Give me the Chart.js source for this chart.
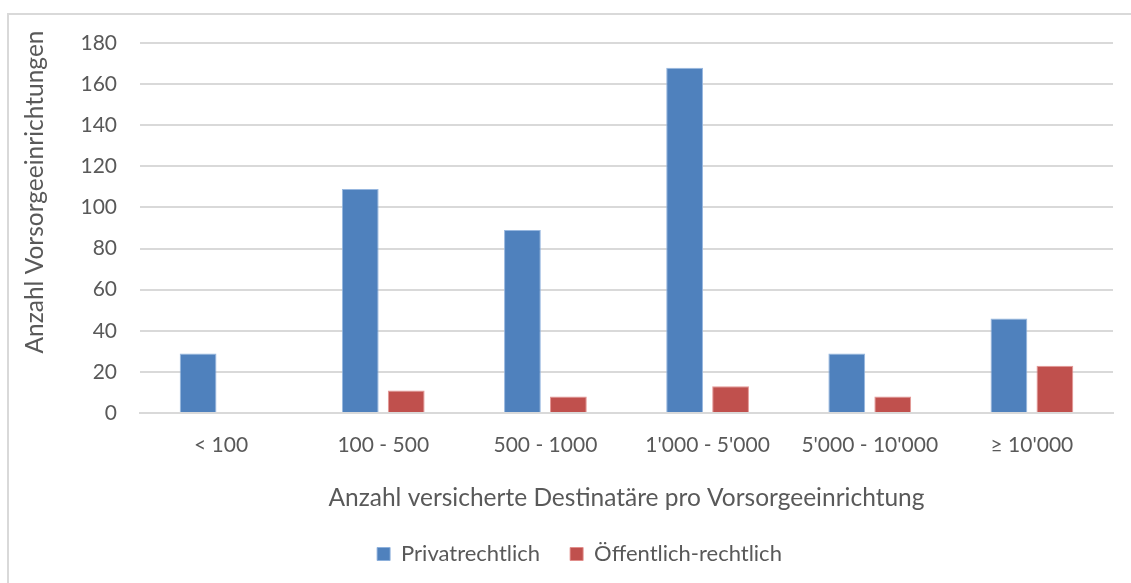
<!DOCTYPE html>
<html lang="de">
<head>
  <meta charset="UTF-8">
  <title>Vorsorgeeinrichtungen nach Grösse</title>
  <script src="https://cdn.jsdelivr.net/npm/chart.js"></script>
  <style>
    html, body { margin: 0; padding: 0; background: #fff; overflow: hidden; }
    .frame {
      position: absolute; left: 7px; top: 13px; width: 1200px; height: 700px;
      border-left: 2px solid #d9d9d9; border-top: 2px solid #d9d9d9;
    }
    .wrap { position: absolute; left: 0; top: 0; width: 1131px; height: 583px; }
  </style>
</head>
<body>
  <div class="frame"></div>
  <div class="wrap"><canvas id="chart"></canvas></div>

  <script>
    // Grössenklassen (Anzahl versicherte Destinatäre)
    const categories = ['< 100', '100 - 500', '500 - 1000', "1'000 - 5'000", "5'000 - 10'000", "\u2265 10'000"];
    const privatrechtlich = [29, 109, 89, 168, 29, 46];
    const oeffentlich = [0, 11, 8, 13, 8, 23];
    const yTicks = [0, 20, 40, 60, 80, 100, 120, 140, 160, 180];

    const FONT = 'Lato, "Open Sans", sans-serif';
    const TEXT = '#595959';

    // rotated y-axis title, sitting a bit above the middle of the plot like in Excel
    const yTitle = {
      id: 'yTitle',
      afterDraw(chart) {
        const ctx = chart.ctx;
        ctx.save();
        ctx.translate(35, 192);
        ctx.rotate(-Math.PI / 2);
        ctx.font = '24.5px ' + FONT;
        ctx.fillStyle = TEXT;
        ctx.textAlign = 'center';
        ctx.textBaseline = 'middle';
        ctx.fillText('Anzahl Vorsorgeeinrichtungen', 0, 0);
        ctx.restore();
      }
    };

    new Chart('chart', {
      type: 'bar',
      data: {
        labels: categories,
        datasets: [
          { label: 'Privatrechtlich', data: privatrechtlich, backgroundColor: '#4f81bd',
            borderColor: 'rgba(140,175,220,0.9)', borderWidth: 1 },
          { label: '\u00d6ffentlich-rechtlich', data: oeffentlich, backgroundColor: '#c0504d',
            borderColor: 'rgba(225,140,138,0.9)', borderWidth: 1 }
        ]
      },
      options: {
        responsive: true,
        maintainAspectRatio: false,
        animation: false,
        categoryPercentage: 0.567,
        barPercentage: 0.8,
        layout: { padding: { left: 46, right: 18, top: 43, bottom: 8 } },
        scales: {
          x: {
            afterFit: axis => { axis.height = 100; },
            grid: { display: false, drawTicks: false },
            border: { color: '#d9d9d9', width: 2 },
            ticks: { color: TEXT, font: { family: FONT, size: 21 }, padding: 20 },
            title: {
              display: true,
              text: 'Anzahl versicherte Destinat\u00e4re pro Vorsorgeeinrichtung',
              color: TEXT,
              font: { family: FONT, size: 24.5 },
              padding: { top: 0, bottom: 0 }
            }
          },
          y: {
            min: 0, max: 180,
            afterFit: axis => { axis.width = 94; },
            afterBuildTicks: axis => { axis.ticks = yTicks.map(v => ({ value: v })); },
            grid: { color: '#d9d9d9', lineWidth: 2, drawTicks: false },
            border: { display: false },
            ticks: { color: TEXT, font: { family: FONT, size: 21 }, padding: 23 }
          }
        },
        plugins: {
          legend: {
            position: 'bottom',
            labels: {
              color: TEXT,
              font: { family: FONT, size: 22 },
              boxWidth: 13, boxHeight: 13,
              padding: 30
            }
          },
          tooltip: { enabled: false }
        }
      },
      plugins: [yTitle]
    });
  </script>
</body>
</html>
